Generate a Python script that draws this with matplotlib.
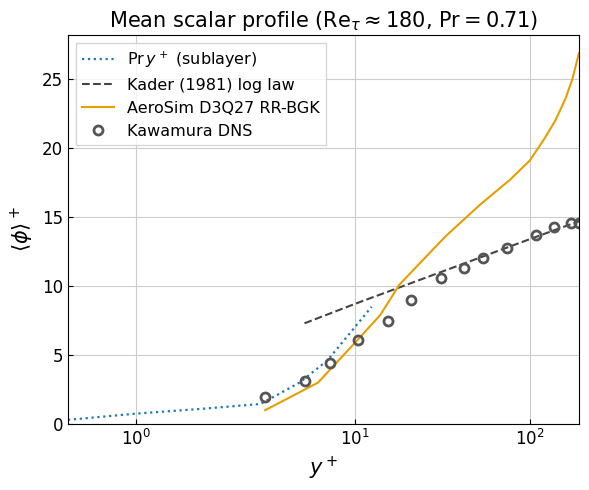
import numpy as np
import matplotlib
matplotlib.use("Agg")
import matplotlib.pyplot as plt

# sublayer Pr*y+ line
sub_y = [0.49, 1.0, 2.0, 3.7, 4.3, 5.6, 7.5, 10.0, 12.5]
sub_phi = [0.3, 0.75, 1.1, 1.45, 2.0, 3.0, 4.6, 7.0, 8.5]

# Kader log law
kader_y = [5.9, 10.0, 100.0, 191.0]
kader_phi = [7.3, 8.7, 13.4, 14.7]

# AeroSim profile
sim_y = [3.9, 6.8, 10.4, 14.0, 18.0, 25.0, 33.0, 52.0, 77.0, 100.0, 120.0, 140.0, 160.0, 175.0, 191.0]
sim_phi = [1.0, 3.0, 6.1, 7.9, 10.1, 12.0, 13.6, 15.9, 17.7, 19.1, 20.6, 22.0, 23.6, 25.0, 26.9]

# Kawamura DNS
dns_y = [3.9, 5.9, 7.7, 10.4, 15.6, 20.9, 31.0, 42.0, 54.0, 74.0, 108.0, 138.0, 171.0, 191.0]
dns_phi = [1.96, 3.1, 4.4, 6.1, 7.5, 9.0, 10.6, 11.3, 12.0, 12.75, 13.7, 14.3, 14.55, 14.55]

K = 175.0 / 218.7


def fwd(x):
    l = np.log10(np.clip(x, 1e-9, None))
    return np.where(l < 1, l, 1 + (l - 1) * K)


def inv(v):
    v = np.asarray(v, dtype=float)
    return np.where(v < 1, 10 ** v, 10 ** (1 + (v - 1) / K))


plt.rcParams["font.family"] = "DejaVu Sans"
fig = plt.figure(figsize=(5.89, 4.9), dpi=100)
ax = fig.add_axes([68 / 589, 1 - 424 / 490, 511 / 589, 389 / 490])
ax.set_xscale("function", functions=(fwd, inv))

ax.plot(sub_y, sub_phi, ":", color="#1f77b4", lw=1.6, label=r"Pr$\,y^+$ (sublayer)")
ax.plot(kader_y, kader_phi, "--", color="#444444", lw=1.5, label="Kader (1981) log law")
ax.plot(sim_y, sim_phi, "-", color="#e69f00", lw=1.5, label="AeroSim D3Q27 RR-BGK")
ax.plot(dns_y, dns_phi, "o", mfc="none", mec="#555555", mew=2, ms=6.5, label="Kawamura DNS")

ax.set_xlim(0.49, 191)
ax.set_ylim(0, 28.2)
ax.set_xticks([1, 10, 100])
ax.set_xticklabels([r"$10^0$", r"$10^1$", r"$10^2$"])
ax.minorticks_off()
ax.set_yticks([0, 5, 10, 15, 20, 25])
ax.tick_params(direction="in", labelsize=12)
ax.grid(True, color="#cccccc", lw=0.8)
ax.set_xlabel(r"$y^+$", fontsize=15)
ax.set_ylabel(r"$\langle\phi\rangle^+$", fontsize=15)
ax.set_title(r"Mean scalar profile (Re$_\tau \approx 180$, Pr$ = 0.71$)", fontsize=15)
ax.legend(loc="upper left", fontsize=11.5, fancybox=False, edgecolor="#cccccc")

fig.savefig("out.png", dpi=100)
